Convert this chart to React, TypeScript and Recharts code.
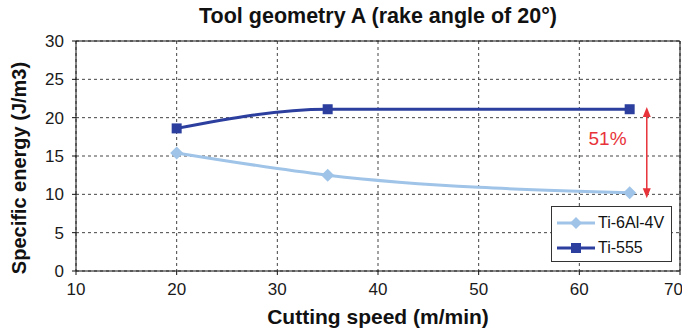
import { LineChart, Line, XAxis, YAxis, CartesianGrid, ReferenceLine, ReferenceDot, Label } from 'recharts';

const speeds = [20, 35, 65];
const ti64 = [15.4, 12.5, 10.2];
const ti555 = [18.6, 21.1, 21.1];
const xTicks = [10, 20, 30, 40, 50, 60, 70];
const yTicks = [0, 5, 10, 15, 20, 25, 30];

const data = speeds.map((s, i) => ({ speed: s, ti64: ti64[i], ti555: ti555[i] }));

const LIGHT = '#9fc4e8';
const DARK = '#2c3f9f';
const RED = '#e8333a';
const FONT = '"Liberation Sans", Arial, sans-serif';

const Diamond = (props: any) => {
  const { cx, cy } = props;
  if (cx == null || cy == null) return null;
  const r = 6.5;
  return <polygon points={`${cx},${cy - r} ${cx + r},${cy} ${cx},${cy + r} ${cx - r},${cy}`} fill={LIGHT} />;
};

const Square = (props: any) => {
  const { cx, cy } = props;
  if (cx == null || cy == null) return null;
  return <rect x={cx - 5} y={cy - 5} width={10} height={10} fill={DARK} />;
};

const Arrow = (props: any) => {
  const { x1, y1, x2, y2 } = props;
  if (x1 == null) return null;
  const top = Math.min(y1, y2);
  const bot = Math.max(y1, y2);
  return (
    <g>
      <line x1={x1} y1={top + 4} x2={x2} y2={bot - 4} stroke={RED} strokeWidth={1.5} />
      <polygon points={`${x1},${top} ${x1 - 4},${top + 10} ${x1 + 4},${top + 10}`} fill={RED} />
      <polygon points={`${x1},${bot} ${x1 - 4},${bot - 10} ${x1 + 4},${bot - 10}`} fill={RED} />
    </g>
  );
};

const legendItems = [
  { name: 'Ti-6Al-4V', color: LIGHT, shape: 'diamond' },
  { name: 'Ti-555', color: DARK, shape: 'square' },
];

const LegendBox = () => (
  <div
    style={{
      position: 'absolute', left: 551, top: 206, width: 121, height: 56, border: '1px solid #333',
      background: '#fff', boxSizing: 'border-box', fontFamily: FONT, fontSize: 16, color: '#111',
      padding: '3px 0 0 5px', whiteSpace: 'nowrap',
    }}
  >
    {legendItems.map((it) => (
      <div key={it.name} style={{ display: 'flex', alignItems: 'center', height: 25 }}>
        <svg width={38} height={14} style={{ marginRight: 3, flex: 'none' }}>
          <line x1={0} y1={7} x2={38} y2={7} stroke={it.color} strokeWidth={3} />
          {it.shape === 'diamond' ? (
            <polygon points="19,1 25,7 19,13 13,7" fill={it.color} />
          ) : (
            <rect x={14} y={2} width={10} height={10} fill={it.color} />
          )}
        </svg>
        <span>{it.name}</span>
      </div>
    ))}
  </div>
);

export default function App() {
  return (
    <div style={{ position: 'absolute', left: 0, top: 0, width: 682, height: 334, background: '#fff', fontFamily: FONT }}>
      <div style={{ position: 'absolute', left: 76, width: 604, top: 4, textAlign: 'center', fontWeight: 'bold', fontSize: 21.5, color: '#111' }}>
        Tool geometry A (rake angle of 20°)
      </div>
      <LineChart width={682} height={334} data={data} margin={{ top: 41, right: 2, left: 0, bottom: 0 }}>
        <CartesianGrid strokeDasharray="3 3" stroke="#444" />
        <XAxis
          dataKey="speed"
          type="number"
          domain={[10, 70]}
          ticks={xTicks}
          height={63}
          stroke="#111"
          tickSize={4}
          tickMargin={8}
          tick={{ fill: '#1a1a1a', fontSize: 17, fontFamily: FONT }}
        >
          <Label
            content={() => (
              <text x={378} y={324} textAnchor="middle" fill="#111" fontSize={21} fontWeight="bold" fontFamily={FONT}>
                Cutting speed (m/min)
              </text>
            )}
          />
        </XAxis>
        <YAxis
          type="number"
          domain={[0, 30]}
          ticks={yTicks}
          width={76}
          stroke="#111"
          tickSize={4}
          tickMargin={8}
          tick={{ fill: '#1a1a1a', fontSize: 17, fontFamily: FONT }}
        >
          <Label
            content={() => (
              <text x={26} y={168} transform="rotate(-90, 26, 168)" textAnchor="middle" fill="#111" fontSize={20} fontWeight="bold" fontFamily={FONT}>
                Specific energy (J/m3)
              </text>
            )}
          />
        </YAxis>
        <ReferenceLine y={30} stroke="#111" strokeWidth={1} />
        <ReferenceLine x={70} stroke="#111" strokeWidth={1} />
        <Line type="monotone" dataKey="ti64" stroke={LIGHT} strokeWidth={3} dot={<Diamond />} activeDot={false} isAnimationActive={false} />
        <Line type="monotone" dataKey="ti555" stroke={DARK} strokeWidth={3} dot={<Square />} activeDot={false} isAnimationActive={false} />
        <ReferenceLine segment={[{ x: 66.7, y: 21.4 }, { x: 66.7, y: 9.5 }]} shape={<Arrow />} />
        <ReferenceDot x={62.8} y={17.3} r={0} fill="none" stroke="none" label={{ value: '51%', fill: RED, fontSize: 19, fontFamily: FONT }} />
      </LineChart>
      <LegendBox />
    </div>
  );
}
